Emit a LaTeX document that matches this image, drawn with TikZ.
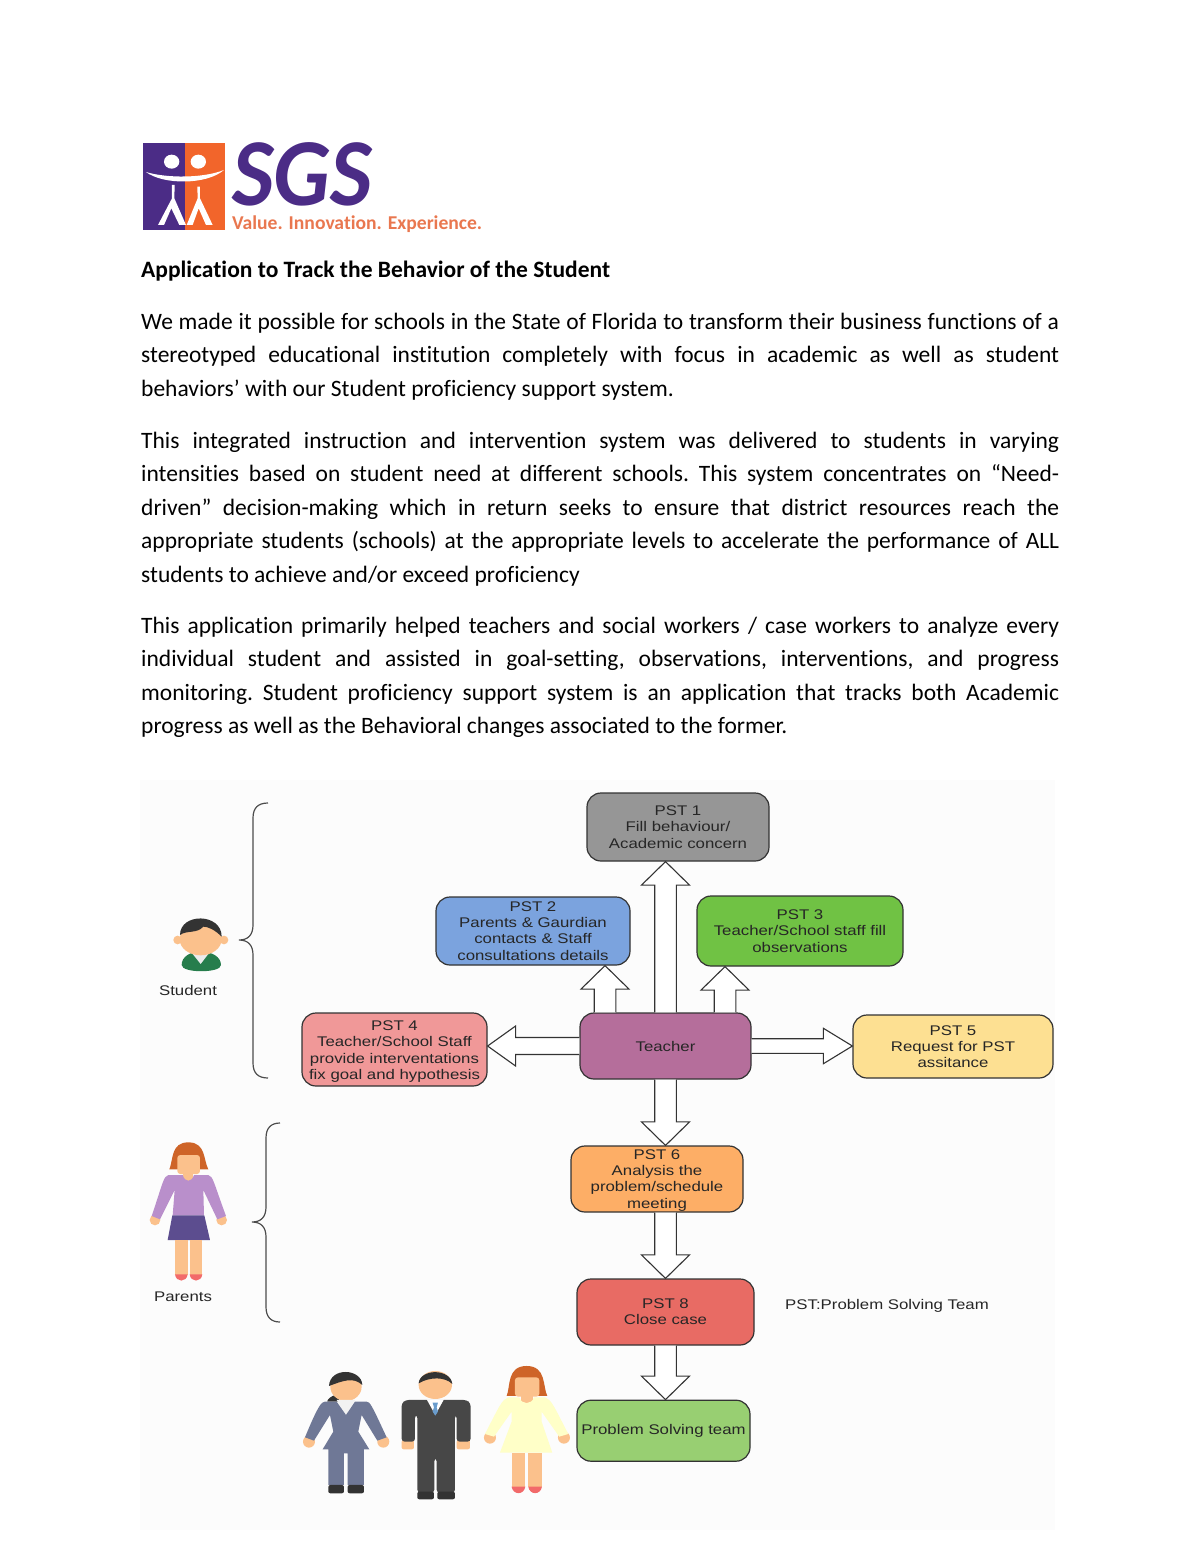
\documentclass[tikz,border=0pt]{standalone}
\usepackage{fontspec}
\setmainfont[Ligatures=NoCommon]{Carlito}
\newfontfamily\figfont[FakeStretch=1.2]{Liberation Sans}
\usetikzlibrary{calc,positioning}
\definecolor{logopurple}{HTML}{4B2C86}
\definecolor{logoorange}{HTML}{F2652B}
\definecolor{logotext}{HTML}{E9774F}
\definecolor{skin}{HTML}{FBC18C}
\definecolor{hairred}{HTML}{CE6428}
\definecolor{hairdark}{HTML}{333333}
\definecolor{shoered}{HTML}{F26A6A}
\tikzset{
  para/.style={anchor=north west,inner sep=0pt,text width=918pt,align=justify,
               font=\fontsize{23.5}{33.4}\selectfont\frenchspacing},
  pst/.style={draw=black!80,line width=1.2pt,rounded corners=14pt,align=center,inner sep=0pt,
              font=\figfont\fontsize{14}{16.3}\selectfont,text=black!85},
  lbl/.style={inner sep=0pt,font=\figfont\fontsize{14}{16.3}\selectfont,text=black!85},
  brace/.style={draw=black!70,line width=1.2pt},
  block/.style n args={3}{draw=black!80,fill=white,line width=1.1pt,to path={
    ($(\tikztostart)!#1!90:(\tikztotarget)$)
    -- ($(\tikztotarget)!#3!(\tikztostart)!#1!-90:(\tikztostart)$)
    -- ($(\tikztotarget)!#3!(\tikztostart)!#2!-90:(\tikztostart)$)
    -- (\tikztotarget)
    -- ($(\tikztotarget)!#3!(\tikztostart)!#2!90:(\tikztostart)$)
    -- ($(\tikztotarget)!#3!(\tikztostart)!#1!90:(\tikztostart)$)
    -- ($(\tikztostart)!#1!-90:(\tikztotarget)$)}},
  vblock/.style={block={10.8pt}{24pt}{23.5pt}},
  lblock/.style={block={8.5pt}{20pt}{28pt}},
  rblock/.style={block={7.3pt}{17.7pt}{29pt}},
  zoomed/.style={x=.3333pt,y=-.3333pt},
}
\begin{document}
\begin{tikzpicture}[x=1pt,y=-1pt]
\useasboundingbox (0,0) rectangle (1200,1555);
\fill[black!1] (140,780) rectangle (1055,1530);

% logo
\begin{scope}[shift={(130,130)},zoomed]
\fill[logopurple] (38,38) rectangle (165,300);
\fill[logoorange] (165,38) rectangle (286,300);
\fill[white] (125,95) ellipse (23 and 21);
\fill[white] (205,95) ellipse (23 and 21);
\fill[white] (48,126) .. controls (110,145) and (220,145) .. (282,120)
  .. controls (230,165) and (100,165) .. (48,126);
\fill[white] (126,165) -- (134,165) -- (133,205) -- (168,285) -- (148,285) -- (124,235)
  -- (102,285) -- (84,285) -- (126,205) -- cycle;
\fill[white] (202,170) -- (210,170) -- (210,205) -- (248,285) -- (228,285) -- (206,235)
  -- (188,285) -- (170,285) -- (203,205) -- cycle;
\end{scope}
\node[inner sep=0pt,anchor=base west,text=logopurple,font=\bfseries\itshape\fontsize{96}{96}\selectfont\addfontfeature{FakeStretch=.93}] (SGS) at (232,205) {SGS};
\node[inner sep=0pt,anchor=base west,text=logotext,font=\bfseries\fontsize{19.6}{22}\selectfont] (tagline) at (232,229) {Value. Innovation. Experience.};

% text
\node[inner sep=0pt,anchor=base west,font=\bfseries\fontsize{23.5}{33.4}\selectfont] (title) at (141,277) {Application to Track the Behavior of the Student};
\node[para] (P1) at (141,313) {We made it possible for schools in the State of Florida to transform their business functions of a\linebreak stereotyped educational institution completely with focus in academic as well as student\linebreak behaviors’ with our Student proficiency support system.};
\node[para] (P2) at (141,432) {This integrated instruction and intervention system was delivered to students in varying\linebreak intensities based on student need at different schools. This system concentrates on “Need-\linebreak driven” decision-making which in return seeks to ensure that district resources reach the\linebreak appropriate students (schools) at the appropriate levels to accelerate the performance of ALL\linebreak students to achieve and/or exceed proficiency};
\node[para] (P3) at (141,617) {This application primarily helped teachers and social workers / case workers to analyze every\linebreak individual student and assisted in goal-setting, observations, interventions, and progress\linebreak monitoring. Student proficiency support system is an application that tracks both Academic\linebreak progress as well as the Behavioral changes associated to the former.};

% boxes
\node[pst,fill=black!41,minimum width=182pt,minimum height=68pt] (PST1) at (678,827) {PST 1\\Fill behaviour/\\Academic concern};
\node[pst,fill={rgb,255:red,123;green,163;blue,222},minimum width=194pt,minimum height=68pt] (PST2) at (533,931) {PST 2\\Parents \& Gaurdian\\contacts \& Staff\\consultations details};
\node[pst,fill={rgb,255:red,112;green,194;blue,68},minimum width=206pt,minimum height=70pt] (PST3) at (800,931) {PST 3\\Teacher/School staff fill\\observations};
\node[pst,fill={rgb,255:red,181;green,110;blue,155},minimum width=171pt,minimum height=66pt] (Teacher) at (665.5,1046) {Teacher};
\node[pst,fill={rgb,255:red,240;green,152;blue,152},minimum width=185pt,minimum height=73pt] (PST4) at (394.5,1049.5) {\rule{0pt}{14pt}PST 4\\Teacher/School Staff\\provide interventations\\fix goal and hypothesis};
\node[pst,fill={rgb,255:red,253;green,224;blue,146},minimum width=200pt,minimum height=63pt] (PST5) at (953,1046.5) {PST 5\\Request for PST\\assitance};
\node[pst,fill={rgb,255:red,253;green,174;blue,102},minimum width=172pt,minimum height=66pt] (PST6) at (657,1179) {\rule{0pt}{12pt}PST 6\\Analysis the\\problem/schedule\\meeting};
\node[pst,fill={rgb,255:red,232;green,107;blue,100},minimum width=177pt,minimum height=66pt] (PST8) at (665.5,1312) {PST 8\\Close case};
\node[pst,fill={rgb,255:red,152;green,207;blue,114},minimum width=173pt,minimum height=61pt,below=54pt of PST8.south west,anchor=north west] (team) {Problem Solving team};

\node[lbl] (student) at (188,990) {Student};
\node[lbl] (parents) at (183,1297) {Parents};
\node[lbl,anchor=west] (legend) at (785,1306) {PST:Problem Solving Team};

% arrows
\draw[vblock] (Teacher.north) to (Teacher.north |- PST1.south);
\draw[vblock] ([xshift=-60.5pt]Teacher.north) to ([xshift=-60.5pt]Teacher.north |- PST2.south);
\draw[vblock] ([xshift=59.5pt]Teacher.north) to ([xshift=59.5pt]Teacher.north |- PST3.south);
\draw[lblock] (Teacher.west) to (Teacher.west -| PST4.east);
\draw[rblock] (Teacher.east) to (Teacher.east -| PST5.west);
\draw[vblock] (Teacher.south) to (Teacher.south |- PST6.north);
\draw[vblock] (PST8.north |- PST6.south) to (PST8.north);
\draw[vblock] (PST8.south) to (PST8.south |- team.north);

% braces
\draw[brace] (268,803) .. controls (258,803) and (253,808) .. (253,818) -- (253,925)
  .. controls (253,935) and (248,940) .. (239,940) .. controls (248,940) and (253,945) .. (253,955)
  -- (253,1063) .. controls (253,1073) and (258,1078) .. (268,1078);
\draw[brace] (280,1123) .. controls (271,1123) and (266,1128) .. (266,1138) -- (266,1207)
  .. controls (266,1217) and (261,1222) .. (252,1222) .. controls (261,1222) and (266,1227) .. (266,1237)
  -- (266,1307) .. controls (266,1317) and (271,1322) .. (280,1322);

% student
\begin{scope}[shift={(140,780)},zoomed]
\fill[fill={rgb,255:red,38;green,125;blue,76}] (125,555) .. controls (125,530) and (150,515) .. (182,515)
  .. controls (215,515) and (243,530) .. (243,555) .. controls (243,580) and (125,580) .. (125,555);
\fill[black!8] (158,522) -- (205,522) -- (182,552) -- cycle;
\fill[skin] (113,480) circle (13);
\fill[skin] (252,480) circle (13);
\fill[skin] (182,478) ellipse (63 and 48);
\fill[hairdark] (120,465) .. controls (120,398) and (245,398) .. (245,470)
  .. controls (225,450) and (205,440) .. (190,440) .. controls (170,462) and (140,450) .. (120,465);
\end{scope}

% parent
\begin{scope}[shift={(140,1110)},zoomed]
\fill[hairred] (88,178) .. controls (100,150) and (92,97) .. (145,97) .. controls (198,97) and (190,150) .. (205,178) -- cycle;
\fill[skin,rounded corners=3pt] (112,135) rectangle (180,192);
\fill[skin] (130,185) rectangle (160,215);
\fill[skin] (45,330) circle (16);
\fill[skin] (245,330) circle (16);
\fill[fill={rgb,255:red,185;green,143;blue,203}] (85,195) -- (128,195) .. controls (135,218) and (155,218) .. (162,195) -- (205,195)
  .. controls (220,200) and (220,215) .. (258,318) -- (232,328) -- (190,240) -- (192,316) -- (98,316) -- (104,240) -- (60,328) -- (35,318)
  .. controls (70,215) and (70,200) .. (85,195);
\fill[fill={rgb,255:red,92;green,77;blue,143}] (97,316) -- (193,316) -- (210,390) -- (83,390) -- cycle;
\fill[skin] (105,390) rectangle (143,495);
\fill[skin] (149,390) rectangle (187,495);
\fill[shoered] (105,493) -- (143,493) .. controls (140,518) and (108,518) .. (105,493);
\fill[shoered] (149,493) -- (187,493) .. controls (184,518) and (152,518) .. (149,493);
% woman in suit
\fill[hairdark] (590,855) .. controls (575,855) and (560,870) .. (562,875) -- (600,875) -- cycle;
\fill[skin] (507,995) circle (18);
\fill[skin] (730,995) circle (18);
\fill[skin] (618,830) ellipse (47 and 43);
\fill[hairdark] (567,828) .. controls (570,770) and (665,775) .. (667,825) .. controls (640,800) and (610,812) .. (567,828);
\fill[black!5] (590,870) -- (645,870) -- (618,915) -- cycle;
\fill[fill={rgb,255:red,111;green,120;blue,150}] (590,875) -- (618,915) -- (645,875) -- (680,875) .. controls (690,875) and (695,885) .. (740,982) -- (712,992)
  -- (665,915) -- (655,965) -- (688,1018) -- (672,1018) -- (672,1125) -- (623,1125) -- (623,1030) -- (612,1030) -- (612,1125) -- (565,1125) -- (565,1018) -- (548,1018) -- (580,965)
  -- (570,915) -- (522,992) -- (495,982) .. controls (535,885) and (545,875) .. (555,875) -- cycle;
\fill[hairdark,rounded corners=2pt] (565,1125) rectangle (612,1150);
\fill[hairdark,rounded corners=2pt] (623,1125) rectangle (672,1150);
% man in suit
\fill[skin,rounded corners=2pt] (785,990) rectangle (822,1018);
\fill[skin,rounded corners=2pt] (950,990) rectangle (990,1018);
\fill[skin] (886,825) ellipse (50 and 42);
\fill[hairdark] (836,820) .. controls (840,775) and (932,775) .. (937,822) .. controls (915,800) and (870,800) .. (836,820);
\fill[black!72,rounded corners=3pt] (785,995) -- (785,880) -- (797,870) -- (980,870) -- (992,880) -- (992,995) -- (950,995) -- (950,915) -- (945,915) -- (945,1148) -- (890,1148) -- (890,1045) -- (883,1045) -- (883,1148) -- (832,1148) -- (832,915) -- (825,915) -- (825,995) -- cycle;
\fill[white] (860,868) -- (912,868) -- (886,915) -- cycle;
\fill[fill={rgb,255:red,106;green,156;blue,204}] (878,878) -- (894,878) -- (890,892) -- (894,905) -- (886,917) -- (878,905) -- (882,892) -- cycle;
\fill[hairdark,rounded corners=2pt] (832,1145) rectangle (882,1168);
\fill[hairdark,rounded corners=2pt] (892,1145) rectangle (945,1168);
% woman in yellow
\fill[hairred] (1100,858) .. controls (1112,830) and (1100,768) .. (1160,768) .. controls (1220,768) and (1208,830) .. (1222,858) -- cycle;
\fill[skin,rounded corners=3pt] (1125,802) rectangle (1198,860);
\fill[skin] (1143,855) rectangle (1178,880);
\fill[skin] (1050,983) circle (18);
\fill[skin] (1272,983) circle (18);
\fill[fill={rgb,255:red,255;green,255;blue,200}] (1105,862) -- (1138,862) .. controls (1145,885) and (1175,885) .. (1182,862) -- (1215,862)
  .. controls (1235,870) and (1240,885) .. (1285,972) -- (1258,980) -- (1205,905) -- (1205,935) -- (1237,1028) -- (1080,1028) -- (1115,935) -- (1115,905)
  -- (1062,980) -- (1035,972) .. controls (1080,885) and (1085,870) .. (1105,862);
\fill[skin] (1115,1030) rectangle (1156,1130);
\fill[skin] (1165,1030) rectangle (1206,1130);
\fill[shoered] (1115,1130) -- (1156,1130) .. controls (1152,1156) and (1119,1156) .. (1115,1130);
\fill[shoered] (1165,1130) -- (1206,1130) .. controls (1202,1156) and (1169,1156) .. (1165,1130);
\end{scope}
\end{tikzpicture}
\end{document}
